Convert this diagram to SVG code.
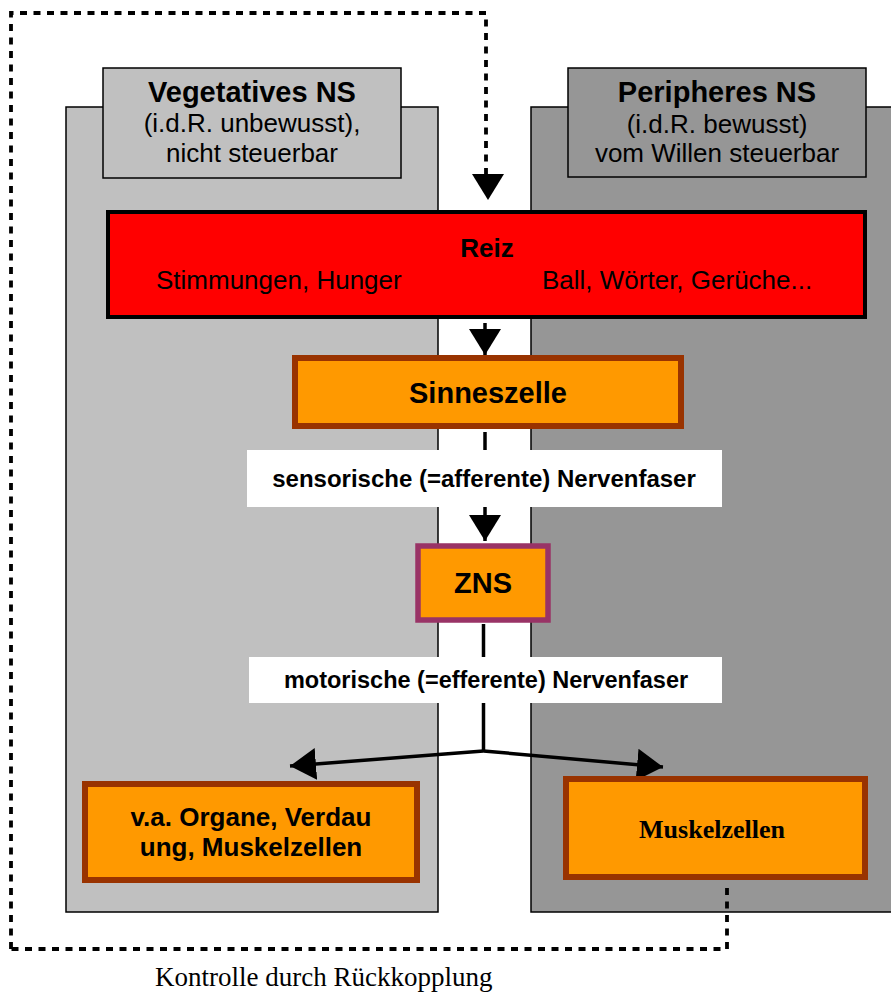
<svg xmlns="http://www.w3.org/2000/svg" width="891" height="992" viewBox="0 0 891 992">
<style>
text{font-family:"Liberation Sans",Arial,sans-serif;fill:#000}
.b{font-weight:bold}
.serif{font-family:"Liberation Serif","Times New Roman",serif}
.panelL{fill:#c0c0c0;stroke:#000;stroke-width:1.5}
.panelR{fill:#969696;stroke:#000;stroke-width:1.5}
.box{fill:#ff9900;stroke:#993300;stroke-width:6}
.lbl{fill:#fff;stroke:none}
.conn{fill:none;stroke:#000;stroke-width:3.5}
.dash{fill:none;stroke:#000;stroke-width:3.8;stroke-dasharray:7 6.5}
</style>
<defs>
<marker id="ah" viewBox="0 0 26 32" refX="26" refY="16" markerWidth="26" markerHeight="32" markerUnits="userSpaceOnUse" orient="auto">
<path d="M0,0 L26,16 L0,32 Z" fill="#000"/>
</marker>
</defs>
<rect width="891" height="992" fill="#fff"/>

<g id="panel-vegetativ">
<rect class="panelL" x="66" y="107" width="372" height="805"/>
<rect class="panelL" x="103" y="68" width="298" height="110" stroke-width="2"/>
<text class="b" x="252" y="102" font-size="29" text-anchor="middle">Vegetatives NS</text>
<text x="252" y="132" font-size="26" text-anchor="middle">(i.d.R. unbewusst),</text>
<text x="252" y="162" font-size="26" text-anchor="middle">nicht steuerbar</text>
</g>

<g id="panel-peripher">
<rect class="panelR" x="531" y="107" width="365" height="805"/>
<rect class="panelR" x="568" y="68" width="298" height="109" stroke-width="2"/>
<text class="b" x="717" y="102" font-size="29" text-anchor="middle">Peripheres NS</text>
<text x="717" y="133" font-size="26" text-anchor="middle">(i.d.R. bewusst)</text>
<text x="717" y="162" font-size="26" text-anchor="middle">vom Willen steuerbar</text>
</g>

<g id="connectors">
<path class="dash" d="M11,949 L11,13 L486,13 L486,176"/>
<path d="M472,174 L504,174 L488,200 Z" fill="#000"/>
<path class="dash" d="M727,888 L727,949 L11,949"/>
<line class="conn" x1="485" y1="323" x2="485" y2="355" marker-end="url(#ah)"/>
<line class="conn" x1="485" y1="432" x2="485" y2="541" marker-end="url(#ah)"/>
<line class="conn" x1="483.5" y1="624" x2="483.5" y2="752"/>
<path class="conn" d="M483.5,751 L290,766" marker-end="url(#ah)"/>
<path class="conn" d="M483.5,751 L663,767" marker-end="url(#ah)"/>
</g>

<g id="reiz">
<rect x="108" y="212" width="757" height="105" fill="#ff0000" stroke="#000" stroke-width="4"/>
<text class="b" x="487" y="257" font-size="26" text-anchor="middle">Reiz</text>
<text x="156" y="289" font-size="26">Stimmungen, Hunger</text>
<text x="542" y="289" font-size="26">Ball, Wörter, Gerüche...</text>
</g>

<g id="sinneszelle">
<rect class="box" x="295" y="358" width="386" height="68" stroke-width="5.5"/>
<text class="b" x="488" y="403" font-size="29" text-anchor="middle">Sinneszelle</text>
</g>

<g id="label-sensorisch">
<rect class="lbl" x="247" y="450" width="475" height="57"/>
<text class="b" x="484" y="487" font-size="24" text-anchor="middle">sensorische (=afferente) Nervenfaser</text>
</g>

<g id="zns">
<rect x="418" y="546" width="130" height="74" fill="#ff9900" stroke="#993366" stroke-width="5.5"/>
<text class="b" x="483" y="593" font-size="29" text-anchor="middle">ZNS</text>
</g>

<g id="label-motorisch">
<rect class="lbl" x="249" y="657" width="473" height="46"/>
<text class="b" x="486" y="688" font-size="23.5" text-anchor="middle">motorische (=efferente) Nervenfaser</text>
</g>

<g id="organe">
<rect class="box" x="85" y="784" width="332" height="96"/>
<text class="b" x="251" y="826" font-size="26" text-anchor="middle">v.a. Organe, Verdau</text>
<text class="b" x="251" y="856" font-size="26" text-anchor="middle">ung, Muskelzellen</text>
</g>

<g id="muskelzellen">
<rect class="box" x="566" y="779" width="299" height="98"/>
<text class="b serif" x="712" y="838" font-size="26" text-anchor="middle">Muskelzellen</text>
</g>

<text class="serif" x="155" y="986" font-size="27">Kontrolle durch Rückkopplung</text>
</svg>
